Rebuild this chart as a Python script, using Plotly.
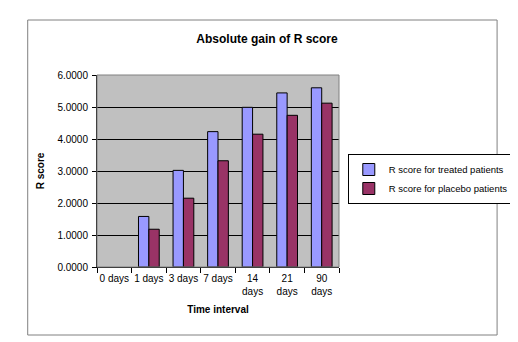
import plotly.graph_objects as go

categories = ["0 days", "1 days", "3 days", "7 days", "14<br>days", "21<br>days", "90<br>days"]
treated = [None, 1.58, 3.02, 4.23, 4.99, 5.44, 5.60]
placebo = [None, 1.18, 2.15, 3.32, 4.15, 4.74, 5.12]
y_ticks = [0, 1, 2, 3, 4, 5, 6]

W, H = 518, 342
ml, mr, mt, mb = 89, 181, 67, 83
pw, ph = W - ml - mr, H - mt - mb

def px(x):
    return (x - ml) / pw

def py(y):
    return (H - mb - y) / ph

font = dict(family="Arial, Liberation Sans, sans-serif", size=10, color="black")

fig = go.Figure()
fig.add_trace(go.Bar(x=categories, y=treated, name="R score for treated patients",
                     marker=dict(color="#9999FF", line=dict(color="black", width=1))))
fig.add_trace(go.Bar(x=categories, y=placebo, name="R score for placebo patients",
                     marker=dict(color="#993366", line=dict(color="black", width=1))))

fig.update_layout(
    width=W, height=H,
    margin=dict(l=ml, r=mr, t=mt, b=mb),
    paper_bgcolor="white", plot_bgcolor="#C0C0C0",
    font=font,
    barmode="group", bargap=0.4, bargroupgap=0,
    title=dict(text="<b>Absolute gain of R score</b>", x=259 / W, xanchor="center",
               y=1 - 31 / H, yanchor="middle", font=dict(size=12, family=font["family"])),
    showlegend=True,
    legend=dict(x=px(346), y=py(146), xanchor="left", yanchor="top",
                bordercolor="black", borderwidth=1, bgcolor="white",
                font=dict(size=9.5, family=font["family"]),
                itemwidth=30, tracegroupgap=0),
    xaxis=dict(type="category", showline=True, linecolor="black", linewidth=1,
               ticks="outside", tickson="boundaries", ticklen=5, tickcolor="black",
               tickangle=0, showgrid=False, ticklabelstandoff=2,
               title=dict(text="<b>Time interval</b>", standoff=9, font=dict(size=10))),
    yaxis=dict(range=[0, 6], tickvals=y_ticks, tickformat=".4f", showline=True,
               linecolor="black", linewidth=1, ticks="outside", ticklen=4,
               tickcolor="black", gridcolor="black", gridwidth=1, zeroline=False,
               ticklabelstandoff=2,
               title=dict(text="<b>R score</b>", standoff=10, font=dict(size=10))),
    shapes=[
        dict(type="rect", xref="paper", yref="paper", x0=px(18), x1=px(499),
             y0=py(327), y1=py(12), line=dict(color="#808080", width=1), layer="below"),
        dict(type="rect", xref="paper", yref="paper", x0=0, x1=1, y0=0, y1=1,
             line=dict(color="#808080", width=1)),
    ],
)

fig.write_html("out.html")
